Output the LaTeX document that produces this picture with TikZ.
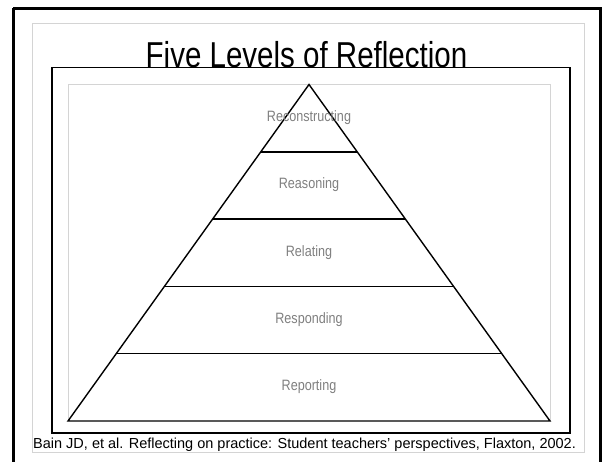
\documentclass[tikz,border=0pt]{standalone}
\usepackage{fontspec}
\usetikzlibrary{calc}
\setmainfont{Liberation Sans}
\newfontfamily\narrowfont{Liberation Sans}[FakeStretch=0.82]
\newfontfamily\labelfont{Liberation Sans}[FakeStretch=0.84]
\definecolor{framegray}{HTML}{D4D4D4}
\definecolor{labelgray}{HTML}{808080}
\tikzset{
  outerframe/.style={draw=black, line width=3pt},
  innerframe/.style={draw=black, line width=1.8pt},
  grayframe/.style={draw=framegray, line width=1pt},
  pyramidline/.style={draw=black, line width=1.4pt, line join=miter},
  levellabel/.style={text=labelgray, font=\labelfont\fontsize{15}{18}\selectfont, inner sep=0pt},
  titletext/.style={font=\narrowfont\fontsize{36}{40}\selectfont, inner sep=0pt, anchor=base},
  captiontext/.style={font=\fontsize{14.5}{16}\selectfont, inner sep=0pt, anchor=base west}
}
\begin{document}
\begin{tikzpicture}[x=1pt, y=-1pt]
\useasboundingbox (0,0) rectangle (603,461);
\fill[white] (0,0) rectangle (603,461);
% frames
\draw[outerframe] (13,8) -- (600,8) -- (600,470) (13,8) -- (13,470);
\draw[grayframe] (32,23) rectangle (584,452);
\draw[innerframe] (52,67.5) rectangle (570,433);
\draw[grayframe] (68,421) -- (68,84) -- (550,84) -- (550,421);
% title and caption
\node[titletext] (title) at (306.5,67) {Five Levels of Reflection};
\node[captiontext] (caption) at (33,448) {Bain JD, et al. Reflecting on practice: Student teachers’ perspectives, Flaxton, 2002.};
% pyramid
\coordinate (apex) at (309,84.5);
\coordinate (bl) at (68,421);
\coordinate (br) at (550,421);
\draw[pyramidline] (apex) -- (bl) -- (br) -- cycle;
\foreach \k in {1,2,3,4}{
  \draw[pyramidline] ($(apex)!\k/5!(bl)$) -- ($(apex)!\k/5!(br)$);
}
\node[levellabel] (l1) at (309,118) {Reconstructing};
\node[levellabel] (l2) at (309,185) {Reasoning};
\node[levellabel] (l3) at (309,252.5) {Relating};
\node[levellabel] (l4) at (309,320) {Responding};
\node[levellabel] (l5) at (309,387) {Reporting};
\end{tikzpicture}
\end{document}
